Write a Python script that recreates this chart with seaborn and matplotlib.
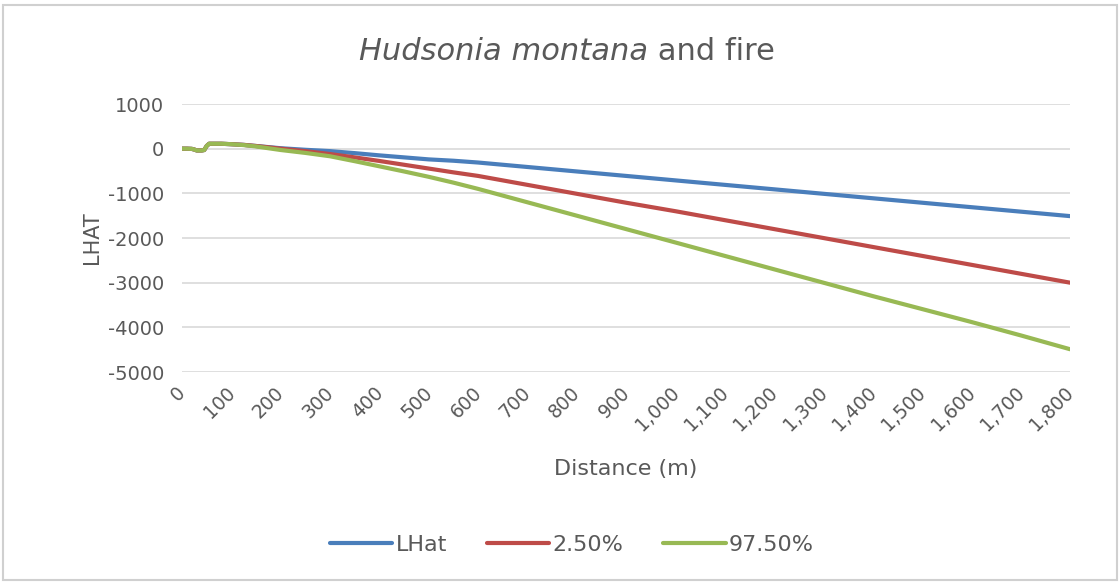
import matplotlib
matplotlib.use("Agg")
import matplotlib.pyplot as plt
import matplotlib.transforms as mtransforms
import seaborn as sns
import pandas as pd
from matplotlib.patches import Rectangle
from matplotlib.lines import Line2D

# Distance bands (m) and the three L-hat curves
distance = [0, 10, 20, 25, 30, 40, 45, 50, 55, 60, 80, 100, 125, 150, 175, 200,
            250, 300, 350, 400, 450, 500, 550, 600, 700, 800, 900, 1000,
            1100, 1200, 1300, 1400, 1500, 1600, 1700, 1800]
lhat = [0, 0, -5, -20, -40, -40, -30, 60, 110, 110, 110, 100, 85, 60, 35, 10,
        -25, -55, -100, -150, -195, -240, -270, -310, -410, -510, -610, -710,
        -810, -910, -1010, -1110, -1210, -1310, -1410, -1510]
ci_low = [0, 0, -5, -20, -40, -40, -30, 60, 110, 110, 110, 100, 85, 60, 30, 0,
          -55, -120, -195, -275, -360, -445, -530, -610, -810, -1010, -1210, -1400,
          -1600, -1800, -2000, -2200, -2400, -2600, -2800, -3000]
ci_high = [0, 0, -5, -20, -40, -40, -30, 60, 110, 110, 110, 100, 80, 50, 10, -30,
           -95, -170, -280, -395, -510, -630, -760, -900, -1200, -1500, -1800, -2100,
           -2400, -2700, -3000, -3300, -3590, -3880, -4180, -4490]

series_names = ["LHat", "2.50%", "97.50%"]
series_colors = ["#4A7EBB", "#BE4B48", "#98B954"]
y_ticks = [1000, 0, -1000, -2000, -3000, -4000, -5000]
x_ticks = list(range(0, 1801, 100))

df = pd.concat([
    pd.DataFrame({"Distance": distance, "value": vals, "series": name})
    for name, vals in zip(series_names, [lhat, ci_low, ci_high])
])

sns.set_theme(style="white")
plt.rcParams["font.family"] = ["DejaVu Sans"]
plt.rcParams["axes.unicode_minus"] = False

text_grey = "#595959"
line_w = 3.0
fig = plt.figure(figsize=(11.2, 5.83), dpi=100)
fig.patch.set_facecolor("white")
fig.patches.append(Rectangle((3 / 1120, 3 / 583), 1 - 6 / 1120, 1 - 8 / 583,
                             transform=fig.transFigure, fill=False,
                             edgecolor="#D0D0D0", linewidth=1.5))

ax = fig.add_axes([182 / 1120, 1 - 372 / 583, (1070 - 182) / 1120, (372 - 104) / 583])
sns.lineplot(data=df, x="Distance", y="value", hue="series", hue_order=series_names,
             palette=series_colors, linewidth=line_w, legend=False, ax=ax,
             solid_capstyle="round", sort=False)

ax.set_xlim(0, 1800)
ax.set_ylim(-5000, 1000)
ax.set_yticks(y_ticks)
ax.set_yticklabels([str(v) for v in y_ticks], color=text_grey, fontsize=14)
ax.set_xticks(x_ticks)
ax.set_xticklabels([f"{v:,}" for v in x_ticks], rotation=45, ha="right",
                   rotation_mode="anchor", color=text_grey, fontsize=13.5)
ax.tick_params(axis="x", length=0, pad=8)
ax.tick_params(axis="y", length=0, pad=13)
# nudge the slanted category labels slightly left of their ticks
shift = mtransforms.ScaledTranslation(-6 / 100, 0, fig.dpi_scale_trans)
for lbl in ax.get_xticklabels():
    lbl.set_transform(lbl.get_transform() + shift)
ax.yaxis.grid(True, color="#D9D9D9", linewidth=1.2)
ax.xaxis.grid(False)
for s in ax.spines.values():
    s.set_visible(False)
ax.set_axisbelow(True)

ax.set_xlabel("Distance (m)", color=text_grey, fontsize=16, labelpad=18)
ax.set_ylabel("LHAT", color=text_grey, fontsize=15, labelpad=4)

# Title: italic species name followed by plain text, centred as one line
fig.canvas.draw()
renderer = fig.canvas.get_renderer()
t1 = fig.text(0, 0, "Hudsonia montana", fontsize=22, style="italic", color=text_grey)
t2 = fig.text(0, 0, " and fire", fontsize=22, color=text_grey)
w1 = t1.get_window_extent(renderer).width
w2 = t2.get_window_extent(renderer).width
cx = 567
left = cx - (w1 + w2) / 2
ty = 1 - 60 / 583
t1.set_position((left / 1120, ty))
t2.set_position(((left + w1) / 1120, ty))

handles = [Line2D([0], [0], color=c, linewidth=line_w, solid_capstyle="round")
           for c in series_colors]
leg = fig.legend(handles, series_names, loc="center", bbox_to_anchor=(572 / 1120, 1 - 545 / 583),
                 ncol=3, frameon=False, fontsize=16, handlelength=2.8,
                 columnspacing=1.8, handletextpad=0.15)
for t in leg.get_texts():
    t.set_color(text_grey)

fig.savefig("out.png", dpi=100, facecolor="white")
